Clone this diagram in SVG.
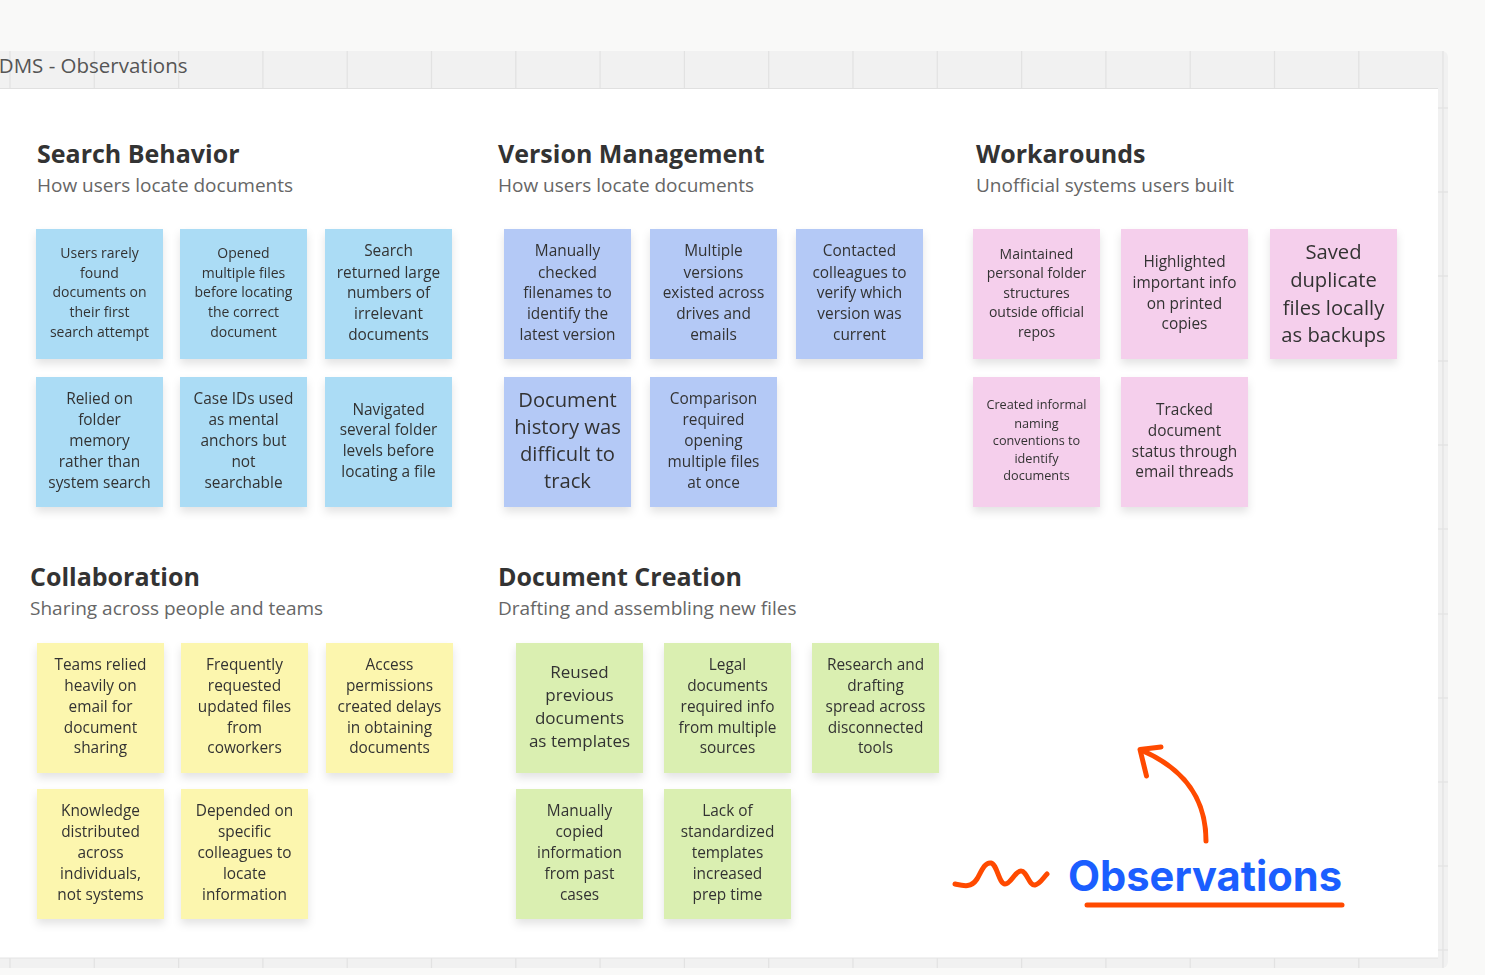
<svg xmlns="http://www.w3.org/2000/svg" width="1485" height="975" viewBox="0 0 1485 975">
<style>
.bg{fill:#f9f9f8}
.band{fill:#f1f1f1}
.grid{stroke:#e2e2e2;stroke-width:1.2}
.sheet{fill:#ffffff}
.title{font-family:'Open Sans','Noto Sans',sans-serif;font-size:20.5px;fill:#555555}
.h{font-family:'Open Sans','Noto Sans',sans-serif;font-size:25px;font-weight:700;fill:#333333}
.sub{font-family:'Open Sans','Noto Sans',sans-serif;font-size:19px;fill:#666666}
.t{font-family:'Open Sans','Noto Sans',sans-serif;fill:#333333;text-anchor:middle}
.s14{font-size:14px}
.s15{font-size:15.4px}
.s17{font-size:17px}
.s20{font-size:20.2px}
.s12{font-size:12.7px}
.blue{fill:#abdcf5}
.peri{fill:#b4c9f6}
.pink{fill:#f5cfec}
.yellow{fill:#fcf6ae}
.green{fill:#daefb1}
.note{filter:url(#sh)}
.ink{fill:none;stroke:#ff4a00;stroke-width:5;stroke-linecap:round;stroke-linejoin:round}
.obs{font-family:Inter,'Liberation Sans',sans-serif;font-size:42px;font-weight:700;fill:#1b5eff}
</style>
<defs>
<filter id="sh" x="-20%" y="-20%" width="140%" height="150%">
<feDropShadow dx="0" dy="5" stdDeviation="4" flood-color="#000" flood-opacity="0.11"/>
</filter>
</defs>
<rect class="bg" x="0" y="0" width="1485" height="975"/>
<g id="frame">
<rect class="band" x="-20" y="51" width="1468" height="917" rx="6"/>
<g class="grid">
<line x1="10" y1="51" x2="10" y2="88"/><line x1="94.3" y1="51" x2="94.3" y2="88"/><line x1="178.6" y1="51" x2="178.6" y2="88"/><line x1="262.9" y1="51" x2="262.9" y2="88"/><line x1="347.2" y1="51" x2="347.2" y2="88"/><line x1="431.5" y1="51" x2="431.5" y2="88"/><line x1="515.8" y1="51" x2="515.8" y2="88"/><line x1="600.1" y1="51" x2="600.1" y2="88"/><line x1="684.4" y1="51" x2="684.4" y2="88"/><line x1="768.7" y1="51" x2="768.7" y2="88"/><line x1="853" y1="51" x2="853" y2="88"/><line x1="937.3" y1="51" x2="937.3" y2="88"/><line x1="1021.6" y1="51" x2="1021.6" y2="88"/><line x1="1105.9" y1="51" x2="1105.9" y2="88"/><line x1="1190.2" y1="51" x2="1190.2" y2="88"/><line x1="1274.5" y1="51" x2="1274.5" y2="88"/><line x1="1358.8" y1="51" x2="1358.8" y2="88"/><line x1="1443" y1="51" x2="1443" y2="968"/>
<line x1="10" y1="958" x2="10" y2="968"/><line x1="94.3" y1="958" x2="94.3" y2="968"/><line x1="178.6" y1="958" x2="178.6" y2="968"/><line x1="262.9" y1="958" x2="262.9" y2="968"/><line x1="347.2" y1="958" x2="347.2" y2="968"/><line x1="431.5" y1="958" x2="431.5" y2="968"/><line x1="515.8" y1="958" x2="515.8" y2="968"/><line x1="600.1" y1="958" x2="600.1" y2="968"/><line x1="684.4" y1="958" x2="684.4" y2="968"/><line x1="768.7" y1="958" x2="768.7" y2="968"/><line x1="853" y1="958" x2="853" y2="968"/><line x1="937.3" y1="958" x2="937.3" y2="968"/><line x1="1021.6" y1="958" x2="1021.6" y2="968"/><line x1="1105.9" y1="958" x2="1105.9" y2="968"/><line x1="1190.2" y1="958" x2="1190.2" y2="968"/><line x1="1274.5" y1="958" x2="1274.5" y2="968"/><line x1="1358.8" y1="958" x2="1358.8" y2="968"/>
<line x1="1438" y1="108" x2="1448" y2="108"/><line x1="1438" y1="192" x2="1448" y2="192"/><line x1="1438" y1="276" x2="1448" y2="276"/><line x1="1438" y1="361" x2="1448" y2="361"/><line x1="1438" y1="445" x2="1448" y2="445"/><line x1="1438" y1="529" x2="1448" y2="529"/><line x1="1438" y1="614" x2="1448" y2="614"/><line x1="1438" y1="698" x2="1448" y2="698"/><line x1="1438" y1="782" x2="1448" y2="782"/><line x1="1438" y1="866" x2="1448" y2="866"/><line x1="1438" y1="950" x2="1448" y2="950"/>
</g>
<rect class="sheet" x="-20" y="88" width="1458" height="870"/>
<line x1="-20" y1="88.5" x2="1438" y2="88.5" stroke="#e0e0e0" stroke-width="1"/>
<line x1="-20" y1="958" x2="1438" y2="958" stroke="#e4e4e4" stroke-width="1"/>
<text class="title" x="187.5" y="73" text-anchor="end">DMS - Observations</text>
</g>

<g id="headings">
<text class="h" x="37" y="163">Search Behavior</text>
<text class="sub" x="37" y="192">How users locate documents</text>
<text class="h" x="498" y="163">Version Management</text>
<text class="sub" x="498" y="192">How users locate documents</text>
<text class="h" x="976" y="163">Workarounds</text>
<text class="sub" x="976" y="192">Unofficial systems users built</text>
<text class="h" x="30" y="586">Collaboration</text>
<text class="sub" x="30" y="614.5">Sharing across people and teams</text>
<text class="h" x="498" y="586">Document Creation</text>
<text class="sub" x="498" y="614.5">Drafting and assembling new files</text>
</g>

<!-- Search Behavior -->
<g id="sb1" class="note"><rect class="blue" x="36" y="229" width="127" height="130"/><text class="t s14"><tspan x="99.5" y="258">Users rarely</tspan><tspan x="99.5" y="277.5">found</tspan><tspan x="99.5" y="297">documents on</tspan><tspan x="99.5" y="317">their first</tspan><tspan x="99.5" y="336.5">search attempt</tspan></text></g>
<g id="sb2" class="note"><rect class="blue" x="180" y="229" width="127" height="130"/><text class="t s14"><tspan x="243.5" y="258">Opened</tspan><tspan x="243.5" y="277.5">multiple files</tspan><tspan x="243.5" y="297">before locating</tspan><tspan x="243.5" y="317">the correct</tspan><tspan x="243.5" y="336.5">document</tspan></text></g>
<g id="sb3" class="note"><rect class="blue" x="325" y="229" width="127" height="130"/><text class="t s15"><tspan x="388.5" y="256">Search</tspan><tspan x="388.5" y="277.5">returned large</tspan><tspan x="388.5" y="298">numbers of</tspan><tspan x="388.5" y="319">irrelevant</tspan><tspan x="388.5" y="339.7">documents</tspan></text></g>
<g id="sb4" class="note"><rect class="blue" x="36" y="377" width="127" height="130"/><text class="t s15"><tspan x="99.5" y="404.4">Relied on</tspan><tspan x="99.5" y="425.4">folder</tspan><tspan x="99.5" y="446">memory</tspan><tspan x="99.5" y="467">rather than</tspan><tspan x="99.5" y="487.7">system search</tspan></text></g>
<g id="sb5" class="note"><rect class="blue" x="180" y="377" width="127" height="130"/><text class="t s15"><tspan x="243.5" y="404.4">Case IDs used</tspan><tspan x="243.5" y="425.4">as mental</tspan><tspan x="243.5" y="446">anchors but</tspan><tspan x="243.5" y="467">not</tspan><tspan x="243.5" y="487.7">searchable</tspan></text></g>
<g id="sb6" class="note"><rect class="blue" x="325" y="377" width="127" height="130"/><text class="t s15"><tspan x="388.5" y="414.7">Navigated</tspan><tspan x="388.5" y="435.4">several folder</tspan><tspan x="388.5" y="456.4">levels before</tspan><tspan x="388.5" y="477">locating a file</tspan></text></g>

<!-- Version Management -->
<g id="vm1" class="note"><rect class="peri" x="504" y="229" width="127" height="130"/><text class="t s15"><tspan x="567.5" y="256">Manually</tspan><tspan x="567.5" y="277.5">checked</tspan><tspan x="567.5" y="298">filenames to</tspan><tspan x="567.5" y="319">identify the</tspan><tspan x="567.5" y="339.7">latest version</tspan></text></g>
<g id="vm2" class="note"><rect class="peri" x="650" y="229" width="127" height="130"/><text class="t s15"><tspan x="713.5" y="256">Multiple</tspan><tspan x="713.5" y="277.5">versions</tspan><tspan x="713.5" y="298">existed across</tspan><tspan x="713.5" y="319">drives and</tspan><tspan x="713.5" y="339.7">emails</tspan></text></g>
<g id="vm3" class="note"><rect class="peri" x="796" y="229" width="127" height="130"/><text class="t s15"><tspan x="859.5" y="256">Contacted</tspan><tspan x="859.5" y="277.5">colleagues to</tspan><tspan x="859.5" y="298">verify which</tspan><tspan x="859.5" y="319">version was</tspan><tspan x="859.5" y="339.7">current</tspan></text></g>
<g id="vm4" class="note"><rect class="peri" x="504" y="377" width="127" height="130"/><text class="t s20"><tspan x="567.5" y="407.3">Document</tspan><tspan x="567.5" y="434.3">history was</tspan><tspan x="567.5" y="461.3">difficult to</tspan><tspan x="567.5" y="488.3">track</tspan></text></g>
<g id="vm5" class="note"><rect class="peri" x="650" y="377" width="127" height="130"/><text class="t s15"><tspan x="713.5" y="404.4">Comparison</tspan><tspan x="713.5" y="425.4">required</tspan><tspan x="713.5" y="446">opening</tspan><tspan x="713.5" y="467">multiple files</tspan><tspan x="713.5" y="487.7">at once</tspan></text></g>

<!-- Workarounds -->
<g id="wa1" class="note"><rect class="pink" x="973" y="229" width="127" height="130"/><text class="t s14"><tspan x="1036.5" y="258.6">Maintained</tspan><tspan x="1036.5" y="278.2">personal folder</tspan><tspan x="1036.5" y="298">structures</tspan><tspan x="1036.5" y="317">outside official</tspan><tspan x="1036.5" y="336.6">repos</tspan></text></g>
<g id="wa2" class="note"><rect class="pink" x="1121" y="229" width="127" height="130"/><text class="t s15"><tspan x="1184.5" y="267">Highlighted</tspan><tspan x="1184.5" y="288">important info</tspan><tspan x="1184.5" y="308.7">on printed</tspan><tspan x="1184.5" y="329.4">copies</tspan></text></g>
<g id="wa3" class="note"><rect class="pink" x="1270" y="229" width="127" height="130"/><text class="t s20"><tspan x="1333.5" y="259.4">Saved</tspan><tspan x="1333.5" y="287">duplicate</tspan><tspan x="1333.5" y="314.8">files locally</tspan><tspan x="1333.5" y="342">as backups</tspan></text></g>
<g id="wa4" class="note"><rect class="pink" x="973" y="377" width="127" height="130"/><text class="t s12"><tspan x="1036.5" y="409.4">Created informal</tspan><tspan x="1036.5" y="427.7">naming</tspan><tspan x="1036.5" y="445.4">conventions to</tspan><tspan x="1036.5" y="463">identify</tspan><tspan x="1036.5" y="480.4">documents</tspan></text></g>
<g id="wa5" class="note"><rect class="pink" x="1121" y="377" width="127" height="130"/><text class="t s15"><tspan x="1184.5" y="414.7">Tracked</tspan><tspan x="1184.5" y="436.4">document</tspan><tspan x="1184.5" y="457.4">status through</tspan><tspan x="1184.5" y="477">email threads</tspan></text></g>

<!-- Collaboration -->
<g id="co1" class="note"><rect class="yellow" x="37" y="643" width="127" height="130"/><text class="t s15"><tspan x="100.5" y="669.7">Teams relied</tspan><tspan x="100.5" y="690.7">heavily on</tspan><tspan x="100.5" y="711.7">email for</tspan><tspan x="100.5" y="732.7">document</tspan><tspan x="100.5" y="753.4">sharing</tspan></text></g>
<g id="co2" class="note"><rect class="yellow" x="181" y="643" width="127" height="130"/><text class="t s15"><tspan x="244.5" y="669.7">Frequently</tspan><tspan x="244.5" y="690.7">requested</tspan><tspan x="244.5" y="711.7">updated files</tspan><tspan x="244.5" y="732.7">from</tspan><tspan x="244.5" y="753.4">coworkers</tspan></text></g>
<g id="co3" class="note"><rect class="yellow" x="326" y="643" width="127" height="130"/><text class="t s15"><tspan x="389.5" y="669.7">Access</tspan><tspan x="389.5" y="690.7">permissions</tspan><tspan x="389.5" y="711.7">created delays</tspan><tspan x="389.5" y="732.7">in obtaining</tspan><tspan x="389.5" y="753.4">documents</tspan></text></g>
<g id="co4" class="note"><rect class="yellow" x="37" y="789" width="127" height="130"/><text class="t s15"><tspan x="100.5" y="816.4">Knowledge</tspan><tspan x="100.5" y="837">distributed</tspan><tspan x="100.5" y="857.7">across</tspan><tspan x="100.5" y="878.7">individuals,</tspan><tspan x="100.5" y="899.7">not systems</tspan></text></g>
<g id="co5" class="note"><rect class="yellow" x="181" y="789" width="127" height="130"/><text class="t s15"><tspan x="244.5" y="816.4">Depended on</tspan><tspan x="244.5" y="837">specific</tspan><tspan x="244.5" y="857.7">colleagues to</tspan><tspan x="244.5" y="878.7">locate</tspan><tspan x="244.5" y="899.7">information</tspan></text></g>

<!-- Document Creation -->
<g id="dc1" class="note"><rect class="green" x="516" y="643" width="127" height="130"/><text class="t s17"><tspan x="579.5" y="677.7">Reused</tspan><tspan x="579.5" y="701">previous</tspan><tspan x="579.5" y="724">documents</tspan><tspan x="579.5" y="747">as templates</tspan></text></g>
<g id="dc2" class="note"><rect class="green" x="664" y="643" width="127" height="130"/><text class="t s15"><tspan x="727.5" y="669.7">Legal</tspan><tspan x="727.5" y="690.7">documents</tspan><tspan x="727.5" y="711.7">required info</tspan><tspan x="727.5" y="732.7">from multiple</tspan><tspan x="727.5" y="753.4">sources</tspan></text></g>
<g id="dc3" class="note"><rect class="green" x="812" y="643" width="127" height="130"/><text class="t s15"><tspan x="875.5" y="669.7">Research and</tspan><tspan x="875.5" y="690.7">drafting</tspan><tspan x="875.5" y="711.7">spread across</tspan><tspan x="875.5" y="732.7">disconnected</tspan><tspan x="875.5" y="753.4">tools</tspan></text></g>
<g id="dc4" class="note"><rect class="green" x="516" y="789" width="127" height="130"/><text class="t s15"><tspan x="579.5" y="816.4">Manually</tspan><tspan x="579.5" y="837">copied</tspan><tspan x="579.5" y="857.7">information</tspan><tspan x="579.5" y="878.7">from past</tspan><tspan x="579.5" y="899.7">cases</tspan></text></g>
<g id="dc5" class="note"><rect class="green" x="664" y="789" width="127" height="130"/><text class="t s15"><tspan x="727.5" y="816.4">Lack of</tspan><tspan x="727.5" y="837">standardized</tspan><tspan x="727.5" y="857.7">templates</tspan><tspan x="727.5" y="878.7">increased</tspan><tspan x="727.5" y="899.7">prep time</tspan></text></g>

<g id="label">
<path class="ink" d="M955,884 C964,886 971,888 977,879 C982,870 985,862 991,863 C997,864 999,884 1005,884 C1011,884 1015,871 1021,871 C1027,871 1029,886 1035,885 C1040,884 1043,878 1047,874"/>
<text class="obs" x="1068" y="891" textLength="274" lengthAdjust="spacingAndGlyphs">Observations</text>
<path class="ink" d="M1087,905 L1342,905"/>
</g>
<g id="connectors">
<path class="ink" d="M1206,841 C1206,806 1192,772 1141,750"/>
<path class="ink" d="M1161,747 L1140,749.5 L1146.5,776"/>
</g>
</svg>
